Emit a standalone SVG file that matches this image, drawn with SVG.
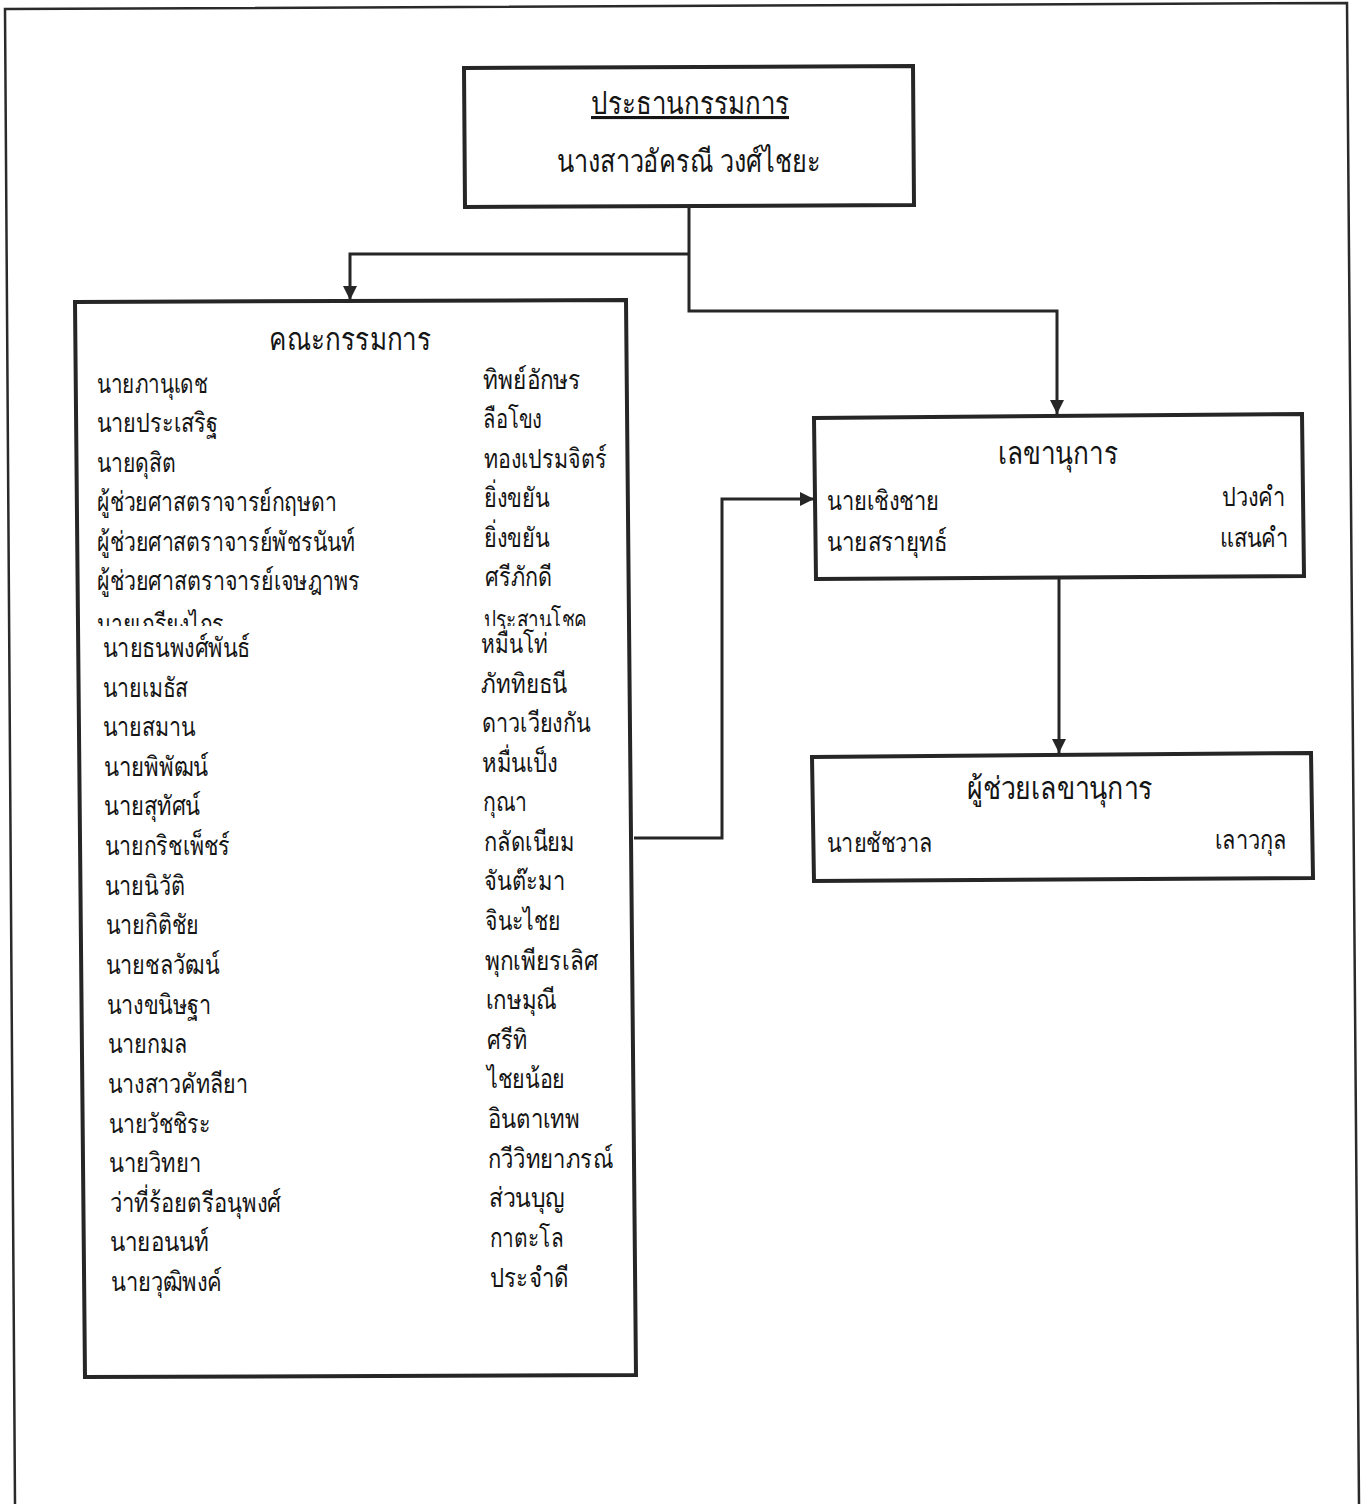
<svg xmlns="http://www.w3.org/2000/svg" width="1363" height="1504" viewBox="0 0 1363 1504">
<style>
.frame{fill:none;stroke:#2a2a2a;stroke-width:2.5}
.box{fill:#fff;stroke:#262626;stroke-width:4;stroke-linejoin:miter}
.conn{fill:none;stroke:#262626;stroke-width:3}
text{font-family:"Noto Sans","DejaVu Sans",sans-serif;fill:#151515}
.n{font-size:27px}
.h{font-size:31px;text-anchor:middle}
</style>
<defs>
<marker id="arr" markerUnits="userSpaceOnUse" markerWidth="16" markerHeight="16" refX="14" refY="7" orient="auto">
<path d="M0,0 L14,7 L0,14 Z" fill="#262626"/>
</marker>
<clipPath id="cut"><rect x="80" y="560" width="550" height="66"/></clipPath>
</defs>
<rect width="1363" height="1504" fill="#fff"/>
<path class="frame" d="M15,1504 L5,9 L1347,3 L1359,1504"/>
<g id="connectors">
<path class="conn" d="M689,207 L689,311 L1057,311 L1057,414" marker-end="url(#arr)"/>
<path class="conn" d="M689,254 L350,254 L350,300" marker-end="url(#arr)"/>
<path class="conn" d="M1059,578 L1059,753" marker-end="url(#arr)"/>
<path class="conn" d="M634,838 L722,838 L722,499 L814,499" marker-end="url(#arr)"/>
</g>
<g id="chairman">
<path class="box" d="M464,68 L913,66 L914,205 L465,207 Z"/>
<text class="h" x="690" y="114" text-decoration="underline" textLength="198" lengthAdjust="spacingAndGlyphs">ประธานกรรมการ</text>
<text class="h" x="689" y="172" textLength="264" lengthAdjust="spacingAndGlyphs">นางสาวอัครณี วงศ์ไชยะ</text>
</g>
<g id="committee">
<path class="box" d="M75,302 L626,300 L636,1375 L85,1377 Z"/>
<text class="h" x="350" y="350" textLength="162" lengthAdjust="spacingAndGlyphs">คณะกรรมการ</text>
<g class="n">
<text x="97" y="393" textLength="111" lengthAdjust="spacingAndGlyphs">นายภานุเดช</text>
<text x="97" y="432" textLength="121" lengthAdjust="spacingAndGlyphs">นายประเสริฐ</text>
<text x="97" y="472" textLength="79" lengthAdjust="spacingAndGlyphs">นายดุสิต</text>
<text x="97" y="511" textLength="240" lengthAdjust="spacingAndGlyphs">ผู้ช่วยศาสตราจารย์กฤษดา</text>
<text x="97" y="551" textLength="258" lengthAdjust="spacingAndGlyphs">ผู้ช่วยศาสตราจารย์พัชรนันท์</text>
<text x="97" y="590" textLength="263" lengthAdjust="spacingAndGlyphs">ผู้ช่วยศาสตราจารย์เจษฎาพร</text>
<text x="97" y="633" clip-path="url(#cut)" textLength="127" lengthAdjust="spacingAndGlyphs">นายเกรียงไกร</text>
<text x="103" y="657" textLength="147" lengthAdjust="spacingAndGlyphs">นายธนพงศ์พันธ์</text>
<text x="103" y="697" textLength="85" lengthAdjust="spacingAndGlyphs">นายเมธัส</text>
<text x="103" y="736" textLength="92" lengthAdjust="spacingAndGlyphs">นายสมาน</text>
<text x="104" y="776" textLength="104" lengthAdjust="spacingAndGlyphs">นายพิพัฒน์</text>
<text x="104" y="815" textLength="96" lengthAdjust="spacingAndGlyphs">นายสุทัศน์</text>
<text x="105" y="855" textLength="125" lengthAdjust="spacingAndGlyphs">นายกริชเพ็ชร์</text>
<text x="105" y="895" textLength="80" lengthAdjust="spacingAndGlyphs">นายนิวัติ</text>
<text x="106" y="934" textLength="93" lengthAdjust="spacingAndGlyphs">นายกิติชัย</text>
<text x="106" y="974" textLength="113" lengthAdjust="spacingAndGlyphs">นายชลวัฒน์</text>
<text x="107" y="1014" textLength="104" lengthAdjust="spacingAndGlyphs">นางขนิษฐา</text>
<text x="108" y="1053" textLength="80" lengthAdjust="spacingAndGlyphs">นายกมล</text>
<text x="108" y="1093" textLength="140" lengthAdjust="spacingAndGlyphs">นางสาวคัทลียา</text>
<text x="109" y="1133" textLength="102" lengthAdjust="spacingAndGlyphs">นายวัชชิระ</text>
<text x="109" y="1172" textLength="92" lengthAdjust="spacingAndGlyphs">นายวิทยา</text>
<text x="110" y="1212" textLength="171" lengthAdjust="spacingAndGlyphs">ว่าที่ร้อยตรีอนุพงศ์</text>
<text x="110" y="1251" textLength="99" lengthAdjust="spacingAndGlyphs">นายอนนท์</text>
<text x="111" y="1291" textLength="111" lengthAdjust="spacingAndGlyphs">นายวุฒิพงค์</text>
<text x="483" y="389" textLength="98" lengthAdjust="spacingAndGlyphs">ทิพย์อักษร</text>
<text x="483" y="428" textLength="59" lengthAdjust="spacingAndGlyphs">ลือโขง</text>
<text x="484" y="468" textLength="123" lengthAdjust="spacingAndGlyphs">ทองเปรมจิตร์</text>
<text x="484" y="507" textLength="65" lengthAdjust="spacingAndGlyphs">ยิ่งขยัน</text>
<text x="484" y="547" textLength="65" lengthAdjust="spacingAndGlyphs">ยิ่งขยัน</text>
<text x="485" y="586" textLength="67" lengthAdjust="spacingAndGlyphs">ศรีภักดี</text>
<text x="484" y="629" clip-path="url(#cut)" textLength="103" lengthAdjust="spacingAndGlyphs">ประสานโชค</text>
<text x="481" y="653" textLength="67" lengthAdjust="spacingAndGlyphs">หมื่นโท่</text>
<text x="481" y="693" textLength="86" lengthAdjust="spacingAndGlyphs">ภัททิยธนี</text>
<text x="482" y="732" textLength="108" lengthAdjust="spacingAndGlyphs">ดาวเวียงกัน</text>
<text x="482" y="772" textLength="76" lengthAdjust="spacingAndGlyphs">หมื่นเป็ง</text>
<text x="483" y="811" textLength="44" lengthAdjust="spacingAndGlyphs">กุณา</text>
<text x="484" y="851" textLength="91" lengthAdjust="spacingAndGlyphs">กลัดเนียม</text>
<text x="484" y="890" textLength="81" lengthAdjust="spacingAndGlyphs">จันต๊ะมา</text>
<text x="485" y="930" textLength="76" lengthAdjust="spacingAndGlyphs">จินะไชย</text>
<text x="485" y="970" textLength="113" lengthAdjust="spacingAndGlyphs">พุกเพียรเลิศ</text>
<text x="486" y="1009" textLength="71" lengthAdjust="spacingAndGlyphs">เกษมุณี</text>
<text x="487" y="1049" textLength="40" lengthAdjust="spacingAndGlyphs">ศรีทิ</text>
<text x="487" y="1088" textLength="78" lengthAdjust="spacingAndGlyphs">ไชยน้อย</text>
<text x="488" y="1128" textLength="92" lengthAdjust="spacingAndGlyphs">อินตาเทพ</text>
<text x="488" y="1168" textLength="125" lengthAdjust="spacingAndGlyphs">กวีวิทยาภรณ์</text>
<text x="489" y="1207" textLength="76" lengthAdjust="spacingAndGlyphs">ส่วนบุญ</text>
<text x="490" y="1247" textLength="74" lengthAdjust="spacingAndGlyphs">กาตะโล</text>
<text x="490" y="1287" textLength="79" lengthAdjust="spacingAndGlyphs">ประจำดี</text>
</g>
</g>
<g id="secretary">
<path class="box" d="M814,418 L1302,414 L1304,576 L816,579 Z"/>
<text class="h" x="1058" y="464" textLength="120" lengthAdjust="spacingAndGlyphs">เลขานุการ</text>
<text class="n" x="827" y="510" textLength="112" lengthAdjust="spacingAndGlyphs">นายเชิงชาย</text>
<text class="n" x="827" y="551" textLength="120" lengthAdjust="spacingAndGlyphs">นายสรายุทธ์</text>
<text class="n" x="1222" y="506" textLength="63" lengthAdjust="spacingAndGlyphs">ปวงคำ</text>
<text class="n" x="1220" y="547" textLength="68" lengthAdjust="spacingAndGlyphs">แสนคำ</text>
</g>
<g id="assistant">
<path class="box" d="M812,757 L1311,753 L1313,878 L814,881 Z"/>
<text class="h" x="1060" y="799" textLength="186" lengthAdjust="spacingAndGlyphs">ผู้ช่วยเลขานุการ</text>
<text class="n" x="827" y="852" textLength="106" lengthAdjust="spacingAndGlyphs">นายชัชวาล</text>
<text class="n" x="1215" y="849" textLength="72" lengthAdjust="spacingAndGlyphs">เลาวกุล</text>
</g>
</svg>
